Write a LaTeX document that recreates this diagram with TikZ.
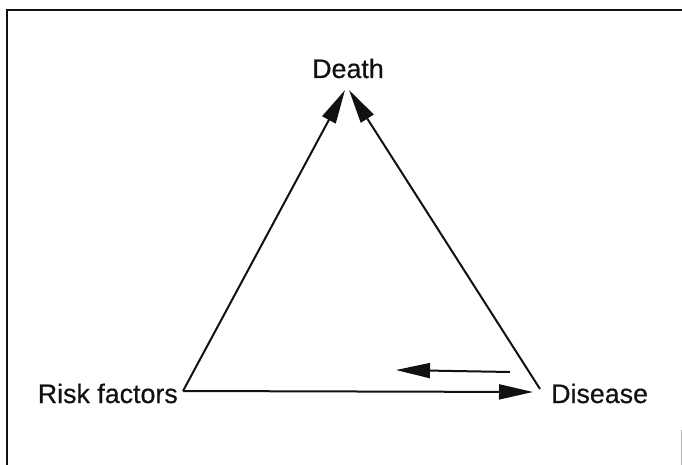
\documentclass[tikz,border=0pt]{standalone}
\usepackage{fontspec}
\setmainfont{Liberation Sans}
\usetikzlibrary{positioning,arrows.meta}
\definecolor{ink}{HTML}{111111}
\tikzset{
  lbl/.style={font=\fontsize{26.8}{32}\selectfont\addfontfeature{FakeBold=0.5}, text=ink, inner sep=0pt},
  link/.style={ink, line width=2pt, -{Triangle[length=34pt,width=15pt]}},
  frame/.style={ink, line width=1.8pt},
}

\begin{document}
\begin{tikzpicture}[x=1pt, y=-1pt]
\useasboundingbox (0,0) rectangle (682,465);
% frame round the figure
\draw[frame] (7,465) -- (7,10) -- (682,10);
\draw[gray!60, line width=1pt] (681,430) -- (681,465);
% corners of the triangle
\coordinate (riskpt) at (183,391);
\coordinate (dispt) at (540,389);
\coordinate (tipL) at (345,90);
\coordinate (tipR) at (349,90);
\coordinate (tipB) at (533,392);
\coordinate (backS) at (510,372);
\coordinate (backE) at (396,370);
% labels
\node[lbl, anchor=base] (death) at (348,78) {Death};
\node[lbl, anchor=base east] (risk) at (178,403) {Risk factors};
\node[lbl, anchor=base west] (disease) at (551,403) {Disease};
% arrows
\draw[link] (riskpt) -- (tipL);
\draw[link] (dispt) -- (tipR);
\draw[link] (riskpt) -- (tipB);
\draw[link] (backS) -- (backE);
\end{tikzpicture}
\end{document}
